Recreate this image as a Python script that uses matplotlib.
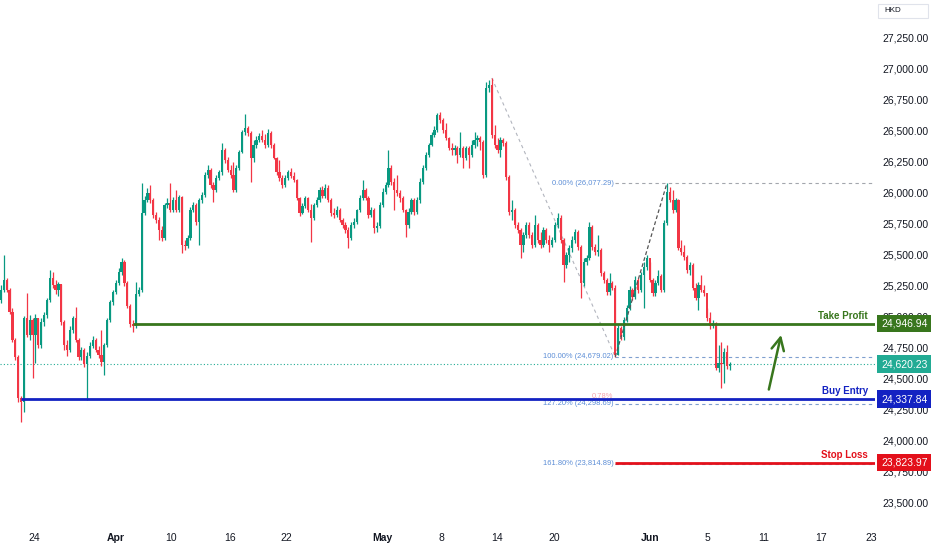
import numpy as np
import matplotlib.pyplot as plt
import matplotlib.transforms as mtransforms
from matplotlib.patches import Rectangle

plt.rcParams['font.family'] = ['Liberation Sans', 'DejaVu Sans']

# HKD index candles (open = previous close)
first_open = 25137
closes = [
    25217, 25298, 25217, 25040, 24814, 24677, 24346, 24314, 24991, 24854,
    24975, 24854, 24991, 24774, 24959, 25015, 25137, 25314, 25257, 25217,
    25266, 24959, 24774, 24733, 24895, 24991, 24814, 24677, 24733, 24620,
    24685, 24766, 24814, 24733, 24693, 24636, 24774, 24975, 25120, 25201,
    25274, 25362, 25443, 25274, 25088, 24943, 24927, 25185, 25217, 25838,
    25943, 26000, 25943, 25822, 25782, 25701, 25637, 25903, 25919, 25862,
    25943, 25862, 25967, 25580, 25572, 25637, 25862, 25903, 25766, 25943,
    25983, 26145, 26185, 26064, 26024, 26120, 26169, 26346, 26266, 26185, 26145, 26024, 26201,
    26330,
    26491, 26524, 26483, 26282, 26387, 26427, 26459, 26427, 26387, 26483, 26387,
    26280,
    26169, 26120, 26064, 26120, 26169, 26137, 26104,
    25960,
    25838, 25895, 25959, 25862, 25798, 25903, 25943, 26024, 25975, 26040, 25943, 25838,
    25822, 25862, 25782, 25741, 25701, 25637, 25741, 25766,
    25860,
    25959, 26024, 25959, 25822, 25862, 25717, 25733, 25903, 26008, 26064, 26201, 26088,
    26024, 26000, 25959,
    25860,
    25741, 25846, 25943, 25846, 25943, 26088, 26201, 26306,
    26390,
    26467, 26508, 26629, 26588, 26508,
    26440,
    26362, 26346, 26362, 26306, 26362, 26282, 26362, 26306, 26387, 26427, 26443, 26411,
    26145, 26846, 26871, 26467, 26387, 26346, 26427, 26403, 26128,
    25846, 25862, 25741, 25701, 25580, 25661, 25741, 25661, 25580, 25741, 25620, 25580,
    25701, 25620, 25580, 25620, 25741, 25798, 25620, 25419, 25499, 25556, 25620, 25685,
    25564, 25274, 25443, 25475, 25725, 25564,
    25523, 25540, 25354, 25298, 25201, 25274, 25233, 24693, 24911, 24838, 24975, 25072,
    25217, 25161, 25298, 25217, 25338, 25403, 25475, 25298, 25193, 25274, 25330, 25217,
    25758, 26008, 25943, 25862,
    25943, 25556, 25523, 25483, 25378, 25419, 25233,
    25153, 25257, 25217,
    25193, 24991, 24927, 24951, 24588,
    24628, 24620, 24717, 24604, 24620.23,
]
highs = [
    25257, 25499, 25314, 25233, 25072, 24830, 24693, 24362, 25007, 25193,
    25015, 24991, 25024, 24991, 24991, 25040, 25153, 25378, 25362, 25298,
    25282, 25266, 24975, 24814, 24927, 25007, 25080, 24830, 24758, 24749,
    24717, 24798, 24846, 24830, 24766, 24895, 24790, 24991, 25137, 25217,
    25298, 25395, 25475, 25459, 25290, 25104, 24975, 25282, 25241, 26080,
    25975, 26040, 26064, 25959, 25846, 25806, 25733, 25919, 25959, 26080,
    25967, 26024, 25983, 25975, 25620, 25661, 25887, 25927, 25919, 25959,
    26008, 26169, 26225, 26201, 26088, 26145, 26185, 26403, 26362, 26290, 26225, 26249, 26225,
    26346,
    26508, 26637, 26540, 26500, 26427, 26459, 26483, 26508, 26475, 26516, 26500,
    26403,
    26290, 26266, 26145, 26145, 26185, 26201, 26169,
    26110,
    25970, 25919, 25975, 25967, 25911, 25919, 25967, 26048, 26056, 26072, 26064, 25959,
    25879, 25895, 25879, 25798, 25766, 25725, 25766, 25798,
    25870,
    25983, 26104, 26040, 25975, 25887, 25879, 25766, 25927, 26040, 26088, 26346, 26225,
    26120, 26145, 26024,
    25975,
    25870, 25879, 25959, 25959, 25967, 26120, 26225, 26330,
    26400,
    26491, 26540, 26645, 26653, 26604,
    26564,
    26450, 26403, 26387, 26379, 26491, 26379, 26379, 26379, 26427, 26491, 26467, 26459,
    26427, 26895, 26911, 26927, 26548, 26443, 26451, 26443, 26419,
    26145, 25943, 25879, 25766, 25717, 25685, 25766, 25766, 25685, 25822, 25758, 25685,
    25725, 25717, 25661, 25645, 25766, 25838, 25822, 25637, 25523, 25580, 25653, 25709,
    25701, 25580, 25475, 25499, 25766, 25741,
    25588, 25661, 25556, 25370, 25314, 25354, 25290, 25257, 24935, 24927, 24999, 25096,
    25249, 25233, 25330, 25314, 25362, 25443, 25499, 25443, 25314, 25298, 25378, 25346,
    25782, 26077.29, 26048, 26024,
    25959, 25951, 25620, 25580, 25499, 25443, 25435,
    25274, 25282, 25338,
    25257, 25072, 25040, 24975, 24959,
    24774, 24798, 24749, 24774, 24636,
]
lows = [
    25112, 25201, 25201, 25024, 24798, 24653, 24314, 24153, 24233, 24838,
    24814, 24507, 24628, 24749, 24749, 24927, 24991, 25120, 25233, 25185,
    25169, 24935, 24733, 24685, 24717, 24871, 24798, 24653, 24653, 24596,
    24330, 24669, 24749, 24717, 24669, 24604, 24532, 24758, 24959, 25096,
    25185, 25257, 25338, 25249, 25072, 24919, 24879, 24911, 25169, 25201,
    25822, 25927, 25919, 25798, 25758, 25620, 25612, 25620, 25879, 25846,
    25846, 25846, 25846, 25515, 25540, 25556, 25620, 25846, 25741, 25580,
    25919, 25967, 26120, 26040, 25927, 26008, 26104, 26145, 26241, 26169, 26120, 26008, 26008,
    26185,
    26320, 26467, 26459, 26088, 26249, 26362, 26411, 26411, 26362, 26371, 26362,
    26270,
    26145, 26096, 26040, 26048, 26104, 26120, 26088,
    25945,
    25814, 25830, 25879, 25846, 25604, 25782, 25887, 25927, 25959, 25959, 25927, 25814,
    25798, 25806, 25766, 25717, 25677, 25556, 25620, 25717,
    25750,
    25850, 25943, 25943, 25798, 25806, 25677, 25685, 25717, 25887, 25991, 26048, 26064,
    25862, 25975, 25927,
    25850,
    25645, 25717, 25830, 25822, 25830, 25919, 26072, 26185,
    26290,
    26380, 26451, 26491, 26564, 26483,
    26430,
    26346, 26306, 26306, 26241, 26290, 26201, 26266, 26201, 26290, 26362, 26379, 26346,
    26120, 26128, 26814, 26443, 26362, 26322, 26290, 26379, 26104,
    25822, 25782, 25717, 25677, 25475, 25523, 25637, 25637, 25556, 25564, 25596, 25556,
    25564, 25596, 25523, 25564, 25604, 25717, 25596, 25282, 25395, 25443, 25523, 25596,
    25540, 25153, 25249, 25419, 25459, 25540,
    25499, 25491, 25330, 25274, 25177, 25177, 25217, 24679.02, 24690, 24814, 24814, 24959,
    25056, 25137, 25145, 25193, 25201, 25072, 25378, 25282, 25169, 25169, 25257, 25201,
    25201, 25741, 25927, 25838,
    25846, 25540, 25499, 25459, 25354, 25338, 25217,
    25137, 25056, 25201,
    25169, 24967, 24903, 24911, 24572,
    24556, 24427, 24467, 24580, 24572,
]

# x-axis dates (bar position of each label)
date_ticks = [11.5, 40.1, 59.2, 79.8, 99.3, 132.8, 153.3, 172.8, 192.7,
              226.1, 246.3, 265.8, 285.7, 303.1]
date_labels = ['24', 'Apr', '10', '16', '22', 'May', '8', '14', '20',
               'Jun', '5', '11', '17', '23']
month_labels = ['Apr', 'May', 'Jun']
price_ticks = np.arange(23500, 27251, 250)

take_profit = 24946.94
buy_entry = 24337.84
stop_loss = 23823.97
last_price = 24620.23
fib_high = 26077.29
fib_low = 24679.02
fib_ratios = [0.0, 1.0, 1.272, 1.618]

GREEN_C = '#089981'
RED_C = '#f23645'
TP_C = '#38761d'
BE_C = '#1322c2'
SL_C = '#e3101b'
LAST_C = '#22ab94'
FIB_C = '#5b8dd6'
TXT_C = '#131722'

closes = np.array(closes, dtype=float)
highs = np.array(highs, dtype=float)
lows = np.array(lows, dtype=float)
opens = np.concatenate([[first_open], closes[:-1]])
x = np.arange(len(closes))
col = np.where(closes >= opens, GREEN_C, RED_C)

fig = plt.figure(figsize=(9.32, 5.5), dpi=100)
ax = fig.add_axes([0, 25 / 550, 875 / 932, 525 / 550])
xmax = 304.5
ax.set_xlim(-0.35, xmax)
ax.set_ylim(23322, 27556)

ax.vlines(x, lows, highs, colors=col, lw=0.9, zorder=2)
ax.bar(x, np.maximum(np.abs(closes - opens), 6), bottom=np.minimum(opens, closes),
       width=0.78, color=col, lw=0, zorder=2)

# key indices
fib_lo_i = int(np.argmin(np.abs(lows - fib_low)))
fib_hi_i = int(np.argmin(np.abs(highs - fib_high)))
top_i = int(np.argmax(highs))
tp_start = 46
be_start = 7

# dashed swing lines
ax.plot([top_i, fib_lo_i], [highs[top_i], fib_low], ls=(0, (3, 3)), color='#b2b5be', lw=0.8, zorder=1)
ax.plot([fib_lo_i, fib_hi_i], [fib_low, fib_high], ls=(0, (3, 2)), color='#555555', lw=0.9, zorder=3)

# fib extension levels
fib_cols = ['#a3a6ad', '#7f9fcf', '#7f9fcf', '#7f9fcf']
for r, c in zip(fib_ratios, fib_cols):
    lvl = fib_high - r * (fib_high - fib_low)
    ax.hlines(lvl, fib_lo_i, xmax, colors=c, linestyles=(0, (3, 3)), lw=0.8, zorder=1)
    ax.text(fib_lo_i - 0.6, lvl, f'{r * 100:.2f}% ({lvl:,.2f})', ha='right', va='center',
            fontsize=5.4, color=FIB_C, zorder=4)
ax.text(fib_lo_i - 0.6, buy_entry + 22, '0.78%', ha='right', va='center',
        fontsize=5.4, color='#f5a3ad', zorder=1)

# current price dotted line
ax.axhline(last_price, color=LAST_C, ls=(0, (1, 2)), lw=0.8, zorder=1)

# trade levels
ax.hlines(take_profit, tp_start, xmax, colors=TP_C, lw=2, zorder=5)
ax.hlines(buy_entry, be_start, xmax, colors=BE_C, lw=2, zorder=5)
ax.hlines(stop_loss, fib_lo_i, xmax, colors=SL_C, lw=2, zorder=5)

trans = mtransforms.blended_transform_factory(ax.transAxes, ax.transData)
above = mtransforms.offset_copy(trans, fig=fig, y=3, units='dots')
for lvl, name, c in [(take_profit, 'Take Profit', TP_C), (buy_entry, 'Buy Entry', BE_C),
                     (stop_loss, 'Stop Loss', SL_C)]:
    ax.text(868 / 875, lvl, name, transform=above, ha='right', va='bottom',
            fontsize=7, fontweight='bold', color=c, zorder=6)

for lvl, c in [(take_profit, TP_C), (last_price, LAST_C), (buy_entry, BE_C), (stop_loss, SL_C)]:
    ax.text(1 + 6 / 875, lvl, f'{lvl:,.2f}', transform=trans, ha='left', va='center',
            fontsize=7.5, color='white', clip_on=False, zorder=10,
            bbox=dict(boxstyle='square,pad=0.35', fc=c, ec='none'))

# green arrow towards target
n = len(closes)
ax.annotate('', xy=(n + 17, take_profit - 70), xytext=(n + 12.3, buy_entry + 55),
            arrowprops=dict(arrowstyle='->,head_length=0.9,head_width=0.45', color=TP_C, lw=1.8),
            zorder=6)

# axes styling
for s in ax.spines.values():
    s.set_visible(False)
ax.yaxis.tick_right()
ax.set_yticks(price_ticks)
ax.set_yticklabels([f'{v:,.2f}' for v in price_ticks])
ax.tick_params(axis='y', length=0, pad=5, labelsize=7.5, labelcolor=TXT_C)
ax.set_xticks(date_ticks)
ax.set_xticklabels(date_labels)
ax.tick_params(axis='x', length=0, pad=6, labelsize=7.5, labelcolor=TXT_C)
for t in ax.get_xticklabels():
    if t.get_text() in month_labels:
        t.set_fontweight('bold')

# currency tag
fig.patches.append(Rectangle((878 / 932, 1 - 18 / 550), 50 / 932, 14 / 550,
                             transform=fig.transFigure, fc='white', ec='#e0e3eb', lw=0.8))
fig.text(884 / 932, 1 - 11 / 550, 'HKD', ha='left', va='center', fontsize=5.8, color=TXT_C)

fig.savefig('out.png', dpi=100)
